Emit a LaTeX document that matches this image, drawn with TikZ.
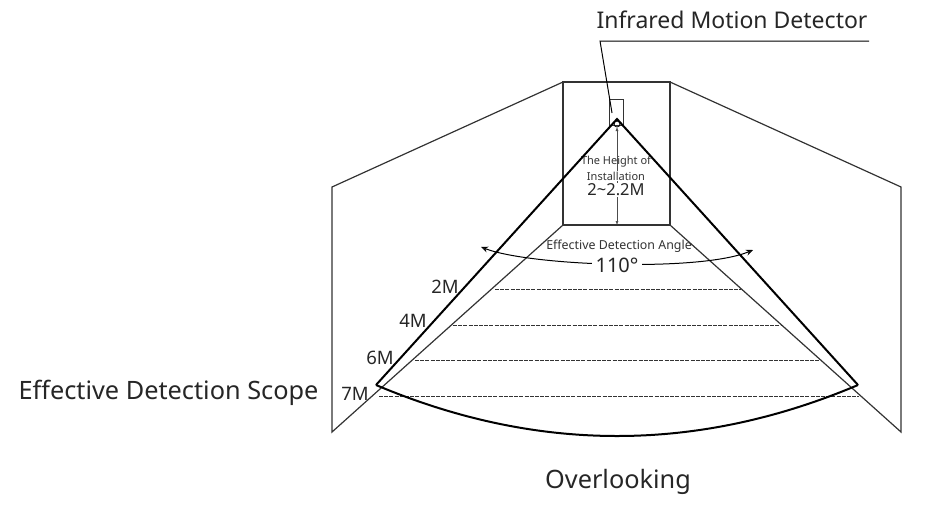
\documentclass[tikz,border=0pt]{standalone}
\usepackage{fontspec}
\setmainfont{Noto Sans}
\usetikzlibrary{arrows.meta}

\begin{document}
\begin{tikzpicture}
[x=1pt,y=-1pt,%
  walldecorate/.style={-,line width=1.2pt,draw=black!80},%
  conedecorate/.style={-,line width=2pt},%
  thindecorate/.style={-,line width=1pt},%
  rangedecorate/.style={-,line width=0.9pt,dash pattern=on 4pt off 1.2pt,draw=black!80},%
  bigtext/.style={font=\fontsize{25.3}{28}\selectfont,text=black!85,inner sep=0pt},%
  midtext/.style={font=\fontsize{18.5}{20}\selectfont,text=black!85,inner sep=0pt},%
  smalltext/.style={font=\fontsize{11}{13}\selectfont,text=black!80,inner sep=0pt}]
\useasboundingbox (0,0) rectangle (949,506);
%% corners of the room and of the cone
\foreach \nodename/\x/\y in {
  %% back wall
  backtl/563/82, backtr/670/82, backbl/563/225, backbr/670/225,
  %% side walls
  lefttop/332/187, leftbot/332/432, righttop/901/187, rightbot/901/432,
  %% cone
  apex/617/119, coneleft/376/385, coneright/858/385,
  %% leader and height
  leaderend/869/41, leaderbend/600/41, leadertip/612/113, floorpt/617/225, sensorpt/617/127,
  %% ends of the range lines
  r2a/495/289, r2b/741/289, r4a/453/325, r4b/781/325,
  r6a/415/360, r6b/820/360, r7a/379/396, r7b/859/396,
  %% ends of the angle arrow
  angleleft/481/247, angleright/753/250}
{
  \coordinate (\nodename) at (\x,\y);
}
%% room
\draw[walldecorate] (backtl) rectangle (backbr);
\draw[walldecorate] (backtl) -- (lefttop) -- (leftbot) -- (backbl);
\draw[walldecorate] (backtr) -- (righttop) -- (rightbot) -- (backbr);
%% detector
\node (detector) at (616,112) [draw=black!80,line width=0.8pt,minimum width=14pt,minimum height=26pt,inner sep=0pt] {};
\node (lens) at (617,124) [shape=circle,draw,line width=0.8pt,minimum size=6pt,inner sep=0pt] {};
\draw[thindecorate] (leaderend) -- (leaderbend) -- (leadertip);
%% range lines
\foreach \startnode/\endnode in {r2a/r2b, r4a/r4b, r6a/r6b, r7a/r7b}
{
  \draw[rangedecorate] (\startnode) -- (\endnode);
}
%% height
\draw[line width=0.5pt,draw=black!70,{Latex[length=4pt,width=3pt]}-{Latex[length=4pt,width=3pt]}] (sensorpt) -- (floorpt);
\node (height1) at (616,162) [smalltext] {The Height of};
\node (height2) at (616,176) [smalltext,fill=white,inner ysep=0.5pt] {Installation};
\node (height3) at (616,190) [font=\fontsize{16.5}{18}\selectfont,text=black!85,fill=white,inner sep=0.5pt] {2\textasciitilde{}2.2M};
%% cone
\draw[conedecorate,line join=miter] (coneleft) -- (apex) -- (coneright);
\draw[conedecorate] (coneleft) .. controls (537,453) and (697,453) .. (coneright);
%% angle
\draw[thindecorate,{Stealth[length=7pt,width=6pt,open]}-{Stealth[length=7pt,width=6pt,open]}] (angleleft) .. controls (530,266) and (700,272) .. (angleright);
\node (anglevalue) at (617,265) [midtext,fill=white,inner xsep=4pt,inner ysep=0pt,font=\fontsize{20}{22}\selectfont] {110°};
\node (anglelabel) at (619,246) [smalltext,font=\fontsize{12.4}{14}\selectfont] {Effective Detection Angle};
%% texts
\node (title) at (732,20) [bigtext,font=\fontsize{23}{26}\selectfont] {Infrared Motion Detector};
\node (scope) at (168.5,393) [bigtext] {Effective Detection Scope};
\node (view) at (618,482) [bigtext] {Overlooking};
\node (m2) at (445,287) [midtext] {2M};
\node (m4) at (413,321) [midtext] {4M};
\node (m6) at (380,358) [midtext] {6M};
\node (m7) at (355,394) [midtext] {7M};
\end{tikzpicture}
\end{document}
